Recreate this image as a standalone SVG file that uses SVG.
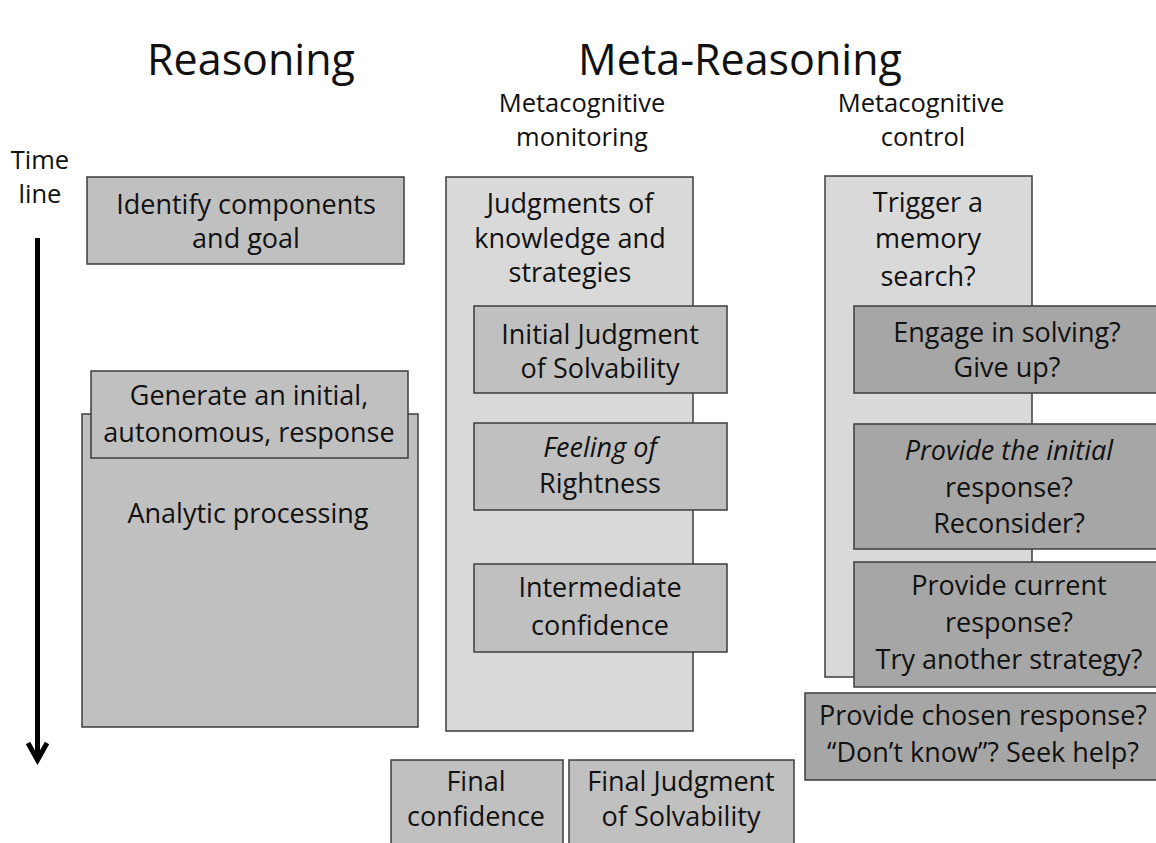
<svg xmlns="http://www.w3.org/2000/svg" width="1156" height="843" viewBox="0 0 1156 843">
<style>
text{font-family:"Open Sans","Liberation Sans",sans-serif;fill:#111;text-anchor:middle;font-size:27px}
.h{font-size:43px}
.sub{font-size:25.5px}
.it{font-style:italic}
.box{stroke:#3c3c3c;stroke-width:1.5}
.mid{fill:#c0c0c0}
.light{fill:#d9d9d9}
.dark{fill:#a6a6a6}
</style>
<rect width="1156" height="843" fill="#fff"/>
<g id="headings">
<text class="h" x="251" y="75">Reasoning</text>
<text class="h" x="740" y="75">Meta-Reasoning</text>
<text class="sub" x="582" y="112">Metacognitive</text>
<text class="sub" x="582" y="146">monitoring</text>
<text class="sub" x="921" y="112">Metacognitive</text>
<text class="sub" x="923" y="146">control</text>
<text class="sub" x="40" y="169">Time</text>
<text class="sub" x="40" y="203">line</text>
</g>
<g id="connectors">
<line x1="37.5" y1="238" x2="37.5" y2="758" stroke="#000" stroke-width="5"/>
<polyline points="28,743 37.5,760 47,743" fill="none" stroke="#000" stroke-width="5" stroke-linejoin="miter"/>
</g>
<g id="identify">
<rect class="box mid" x="87" y="177" width="317" height="87"/>
<text x="246" y="214">Identify components</text>
<text x="246" y="248">and goal</text>
</g>
<g id="analytic">
<rect class="box mid" x="82" y="414" width="336" height="313"/>
<text x="248" y="523">Analytic processing</text>
</g>
<g id="generate">
<rect class="box mid" x="91" y="371" width="317" height="87"/>
<text x="249" y="405">Generate an initial,</text>
<text x="249" y="442">autonomous, response</text>
</g>
<g id="monitoring">
<rect class="box light" x="446" y="177" width="247" height="554"/>
<text x="570" y="213">Judgments of</text>
<text x="570" y="248">knowledge and</text>
<text x="570" y="282">strategies</text>
</g>
<g id="initial-jos">
<rect class="box mid" x="474" y="306" width="253" height="87"/>
<text x="600" y="344">Initial Judgment</text>
<text x="600" y="378">of Solvability</text>
</g>
<g id="for">
<rect class="box mid" x="474" y="423" width="253" height="87"/>
<text class="it" x="600" y="457">Feeling of</text>
<text x="600" y="493">Rightness</text>
</g>
<g id="intermediate">
<rect class="box mid" x="474" y="564" width="253" height="88"/>
<text x="600" y="597">Intermediate</text>
<text x="600" y="635">confidence</text>
</g>
<g id="control">
<rect class="box light" x="825" y="176" width="207" height="501"/>
<text x="928" y="212">Trigger a</text>
<text x="928" y="248">memory</text>
<text x="928" y="286">search?</text>
</g>
<g id="engage">
<rect class="box dark" x="854" y="306" width="310" height="87"/>
<text x="1007" y="342">Engage in solving?</text>
<text x="1007" y="377">Give up?</text>
</g>
<g id="provide-initial">
<rect class="box dark" x="854" y="424" width="310" height="125"/>
<text class="it" x="1009" y="460">Provide the initial</text>
<text x="1009" y="497">response?</text>
<text x="1009" y="533">Reconsider?</text>
</g>
<g id="provide-current">
<rect class="box dark" x="854" y="562" width="310" height="125"/>
<text x="1009" y="595">Provide current</text>
<text x="1009" y="632">response?</text>
<text x="1009" y="669">Try another strategy?</text>
</g>
<g id="provide-chosen">
<rect class="box dark" x="805" y="693" width="360" height="87"/>
<text x="983" y="725">Provide chosen response?</text>
<text x="983" y="762">“Don’t know”? Seek help?</text>
</g>
<g id="final-confidence">
<rect class="box mid" x="391" y="760" width="172" height="100"/>
<text x="476" y="791">Final</text>
<text x="476" y="826">confidence</text>
</g>
<g id="final-jos">
<rect class="box mid" x="569" y="760" width="225" height="100"/>
<text x="681" y="791">Final Judgment</text>
<text x="681" y="826">of Solvability</text>
</g>
</svg>
